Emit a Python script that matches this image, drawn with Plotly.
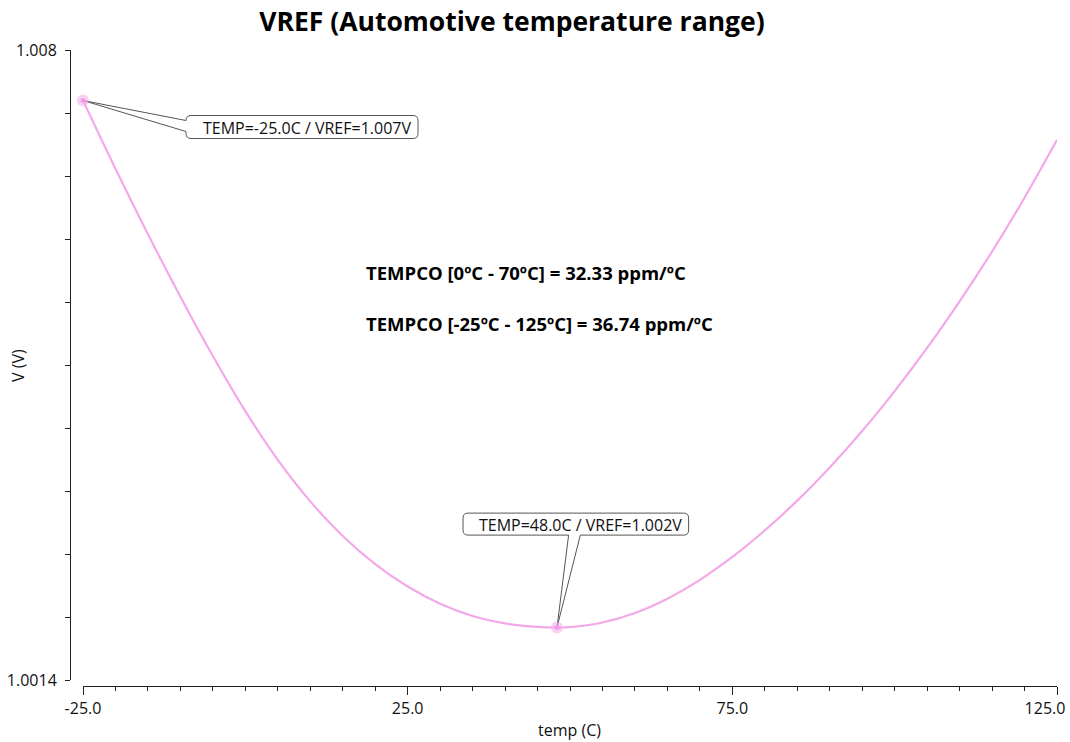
import plotly.graph_objects as go

# ---- data ----
temp_c = [-25, -20, -15, -10, -5, 0, 5, 10, 15, 20, 25, 30, 35, 40, 45, 48, 50,
          55, 60, 65, 70, 75, 80, 85, 90, 95, 100, 105, 110, 115, 120, 125]
vref_v = [1.007471, 1.006756, 1.006071, 1.005416, 1.004794, 1.004216, 1.003706,
          1.003271, 1.002909, 1.002614, 1.002379, 1.002199, 1.002071, 1.001994,
          1.001956, 1.001950, 1.001954, 1.002002, 1.002102, 1.002252, 1.002449,
          1.002689, 1.002967, 1.003279, 1.003627, 1.004009, 1.004427, 1.004879,
          1.005367, 1.005889, 1.006452, 1.007059]

x_tick_vals = [-25, 25, 75, 125]
x_tick_text = ["-25.0", "25.0", "75.0", ""]
x_last_tick_val = [125]
x_last_tick_text = ["125.0"]
y_tick_vals = [1.0014, 1.00206, 1.00272, 1.00338, 1.00404, 1.0047, 1.00536,
               1.00602, 1.00668, 1.00734, 1.008]
y_tick_text = ["1.0014", "", "", "", "", "", "", "", "", "", "1.008"]

tempco_lines = ["TEMPCO [0ºC - 70ºC] = 32.33 ppm/ºC",
                "TEMPCO [-25ºC - 125ºC] = 36.74 ppm/ºC"]

title_text = "VREF (Automotive temperature range)"
x_title = "temp (C)"
y_title = "V (V)"

LINE = "#f3a8e8"
FONT = "Open Sans"
AX = "#222"

# annotated points: first sample and minimum
i_first = 0
i_min = min(range(len(vref_v)), key=lambda i: vref_v[i])
pts = [i_first, i_min]
px = [temp_c[i] for i in pts]
py = [vref_v[i] for i in pts]

fig = go.Figure()
fig.add_trace(go.Scatter(x=temp_c, y=vref_v, mode="lines",
                         line=dict(color=LINE, width=2.2, shape="spline", smoothing=1.0),
                         cliponaxis=False, hoverinfo="skip"))
fig.add_trace(go.Scatter(x=px, y=py, mode="markers",
                         marker=dict(size=12, color="rgba(245,170,235,0.55)"),
                         cliponaxis=False, hoverinfo="skip"))
fig.add_trace(go.Scatter(x=px, y=py, mode="markers",
                         marker=dict(size=5, color="#f39be6"),
                         cliponaxis=False, hoverinfo="skip"))
# invisible helper trace so the secondary x axis (last tick label) is drawn
fig.add_trace(go.Scatter(x=[temp_c[-1]], y=[vref_v[-1]], xaxis="x2", yaxis="y",
                         mode="markers", marker=dict(opacity=0), hoverinfo="skip"))

# callout boxes (pixel offsets relative to the annotated data points)
path1 = ("M0,0 L103,-20 Q103,-15 108,-15 L330,-15 Q335,-15 335,-20 L335,-33 "
         "Q335,-38 330,-38 L108,-38 Q103,-38 103,-33 L103,-31 Z")
path2 = ("M0,0 L11.6,92.4 L-89,92.4 Q-94,92.4 -94,97.4 L-94,109.4 Q-94,114.4 -89,114.4 "
         "L126.6,114.4 Q131.6,114.4 131.6,109.4 L131.6,97.4 Q131.6,92.4 126.6,92.4 L23.3,92.4 Z")
for (xa, ya, path) in [(px[0], py[0], path1), (px[1], py[1], path2)]:
    fig.add_shape(type="path", xref="x", yref="y", xsizemode="pixel", ysizemode="pixel",
                  xanchor=xa, yanchor=ya, path=path,
                  line=dict(color="#555555", width=1), fillcolor="white", layer="below")

labels = [f"TEMP={temp_c[i]:.1f}C / VREF={vref_v[i]:.3f}V" for i in pts]
fig.add_annotation(x=px[0], y=py[0], xref="x", yref="y", text=labels[0], showarrow=False,
                   xanchor="right", yanchor="middle", xshift=330, yshift=-27,
                   font=dict(family=FONT, size=16, color="#111"))
fig.add_annotation(x=px[1], y=py[1], xref="x", yref="y", text=labels[1], showarrow=False,
                   xanchor="right", yanchor="middle", xshift=127, yshift=103,
                   font=dict(family=FONT, size=16, color="#111"))

for txt, yy in zip(tempco_lines, [0.6494, 0.5692]):
    fig.add_annotation(x=0.2979, y=yy, xref="paper", yref="paper", text=f"<b>{txt}</b>",
                       showarrow=False, xanchor="left", yanchor="middle",
                       font=dict(family=FONT, size=18.5, color="black"))

fig.add_annotation(x=0.5056, y=-0.0692, xref="paper", yref="paper", text=x_title,
                   showarrow=False, xanchor="center", yanchor="middle",
                   font=dict(family=FONT, size=16, color="#111"))
fig.add_annotation(x=-0.0527, y=0.5047, xref="paper", yref="paper", text=y_title,
                   showarrow=False, xanchor="center", yanchor="middle", textangle=-90,
                   font=dict(family=FONT, size=16, color="#111"))

fig.update_layout(
    width=1070, height=742,
    margin=dict(l=70, r=13, t=50, b=56, autoexpand=False),
    plot_bgcolor="white", paper_bgcolor="white",
    showlegend=False,
    font=dict(family=FONT, size=16, color="#111"),
    title=dict(text=f"<b>{title_text}</b>", x=0.4478, xref="paper", xanchor="center",
               y=1 - 22 / 742, yref="container", yanchor="middle",
               font=dict(family=FONT, size=26.5, color="black")),
    xaxis=dict(domain=[13 / 987, 1], range=[-25, 125], anchor="free", position=0,
               automargin=False,
               showline=True, linecolor=AX, linewidth=1, showgrid=False, zeroline=False,
               ticks="outside", tickvals=x_tick_vals, ticktext=x_tick_text, ticklen=8,
               tickcolor=AX, tickfont=dict(size=16),
               minor=dict(ticks="outside", dtick=5, tick0=-25, ticklen=4, tickcolor=AX,
                          showgrid=False)),
    xaxis2=dict(domain=[13 / 987, 1], range=[-25, 125], anchor="free", position=0,
                overlaying="x", automargin=False, showline=False, showgrid=False,
                zeroline=False, ticks="outside", tickvals=x_last_tick_val,
                ticktext=x_last_tick_text, ticklen=8, tickcolor=AX,
                tickfont=dict(size=16), ticklabelshift=-12),
    yaxis=dict(domain=[6 / 636, 1], range=[1.0014, 1.008], anchor="free", position=0,
               automargin=False,
               showline=True, linecolor=AX, linewidth=1, showgrid=False, zeroline=False,
               ticks="outside", tickvals=y_tick_vals, ticktext=y_tick_text, ticklen=5,
               tickcolor=AX, tickfont=dict(size=16), ticklabelstandoff=5),
)

fig.write_html("out.html")
